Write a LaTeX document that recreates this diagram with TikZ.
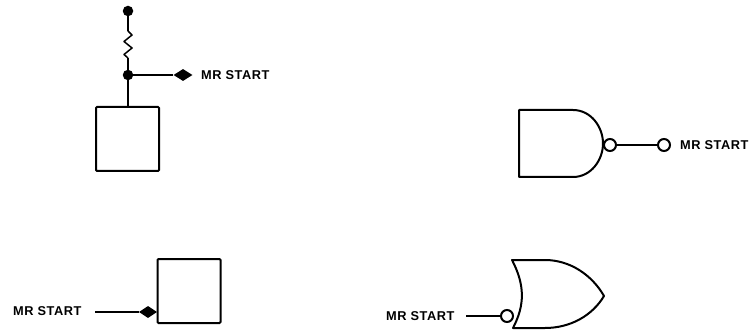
\documentclass[tikz,border=0pt]{standalone}
\usepackage{fontspec}
\setmainfont{Liberation Sans}
\usetikzlibrary{shapes.geometric}
\tikzset{
  x=1pt,y=-1pt,
  wire/.style={line width=1.3pt,black},
  heavy/.style={line width=2pt,black,line join=round},
  dotn/.style={circle,fill=black,draw=none,minimum size=10.5pt,inner sep=0pt},
  diam/.style={diamond,fill=black,draw=none,minimum width=19pt,minimum height=12pt,inner sep=0pt},
  bubble/.style={circle,draw=black,fill=white,line width=2pt,minimum size=12pt,inner sep=0pt},
  lab/.style={font=\fontsize{12.8}{14}\selectfont\bfseries\addfontfeature{LetterSpace=4},anchor=west,inner sep=0pt,text=black},
  sq/.style={draw=black,line width=2pt,rectangle,rounded corners=1pt,minimum width=63pt,minimum height=64pt,inner sep=0pt,fill=white}
}
\begin{document}
\begin{tikzpicture}
\useasboundingbox (0,0) rectangle (749,331);
% top left
\node[dotn] (t) at (128,11) {};
\node[dotn] (j) at (128,75) {};
\node[sq] (b1) at (127.5,139) {};
\node[diam] (d1) at (183,75) {};
\node[lab] (l1) at (201,75.5) {MR START};
\coordinate (r1) at (128,31);
\coordinate (r2) at (128,58);
\draw[wire] (t) -- (r1);
\draw[wire,line width=1.5pt,line join=round] (r1) -- (132,35) -- (124,41.5) -- (132,48) -- (124,54.5) -- (r2);
\draw[wire] (r2) -- (j);
\draw[wire] (j) -- (b1.north -| j);
\draw[wire] (j) -- (d1);
% top right
\draw[heavy] (519,110) -- (573,110) .. controls (591,110) and (603,127) .. (603,143.5) .. controls (603,160) and (591,177) .. (573,177) -- (519,177) -- cycle;
\node[bubble] (n1) at (610,145) {};
\node[bubble] (n2) at (664,145) {};
\node[lab] (l2) at (680,145.5) {MR START};
\draw[wire] (n1) -- (n2);
% bottom left
\node[sq] (b2) at (189,291) {};
\node[diam,minimum width=18pt] (d2) at (148,312) {};
\node[lab] (l3) at (13,311.5) {MR START};
\coordinate (w3) at (95,312);
\draw[wire] (w3) -- (d2);
% bottom right
\draw[heavy] (512,260) -- (545,260) .. controls (570,260) and (592,275) .. (604,296) .. controls (592,316) and (570,328) .. (545,328) -- (513,328) .. controls (525,305) and (525,285) .. (512,260) -- cycle;
\node[bubble] (n3) at (507,316) {};
\node[lab] (l4) at (386,316.5) {MR START};
\coordinate (w4) at (466,316);
\draw[wire] (w4) -- (n3);
\end{tikzpicture}
\end{document}
